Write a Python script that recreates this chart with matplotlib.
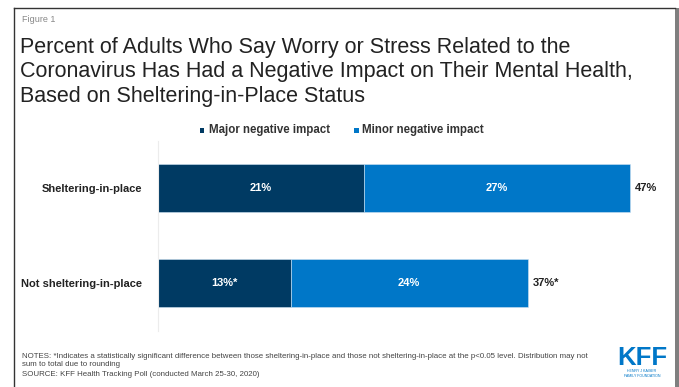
import matplotlib
matplotlib.use("Agg")
import matplotlib.pyplot as plt
from matplotlib.patches import Rectangle
from matplotlib.lines import Line2D

plt.rcParams['font.family'] = ['Liberation Sans', 'DejaVu Sans']

categories = ["Sheltering-in-place", "Not sheltering-in-place"]
major = [20.6, 13.3]
minor = [26.6, 23.7]
major_labels = ["21%", "13%*"]
minor_labels = ["27%", "24%"]
total_labels = ["47%", "37%*"]
series_names = ["Major negative impact", "Minor negative impact"]

DARK = "#003a63"
LIGHT = "#0077c8"

W, H = 679, 387
fig = plt.figure(figsize=(W / 100, H / 100), dpi=100)

def fx(px):
    return px / W

def fy(py):
    return 1 - py / H

# frame
fig.add_artist(Line2D([fx(14), fx(14)], [fy(8), 0], color="#333333", lw=1.0))
fig.add_artist(Line2D([fx(14), fx(675)], [fy(8), fy(8)], color="#333333", lw=1.0))
fig.add_artist(Rectangle((fx(674.5), 0), fx(4.5), fy(8), color="#7f7f7f", lw=0))

# axes
ax_left, ax_w = 157.7, 500.0
ax_top, ax_h = 140.5, 190.0
ax = fig.add_axes([fx(ax_left), fy(ax_top + ax_h), ax_w / W, ax_h / H])
y = list(range(len(categories)))
ax.barh(y, major, height=0.5, color=DARK, edgecolor="#cfe3f3", linewidth=0.4)
ax.barh(y, minor, left=major, height=0.5, color=LIGHT, edgecolor="#cfe3f3", linewidth=0.4)
ax.set_xlim(0, 50)
ax.set_ylim(1.5, -0.5)
for s in ["top", "right", "bottom"]:
    ax.spines[s].set_visible(False)
ax.spines["left"].set_color("#ececec")
ax.spines["left"].set_linewidth(0.8)
ax.set_xticks([])
ax.set_yticks(y)
ax.set_yticklabels(categories, fontsize=8, fontweight="bold", color="#222222")
ax.tick_params(axis="y", length=0, pad=11)

for i in y:
    ax.text(major[i] / 2, i, major_labels[i], ha="center", va="center",
            color="white", fontsize=8, fontweight="bold")
    ax.text(major[i] + minor[i] / 2, i, minor_labels[i], ha="center", va="center",
            color="white", fontsize=8, fontweight="bold")
    ax.text(major[i] + minor[i] + 0.5, i, total_labels[i], ha="left", va="center",
            color="#222222", fontsize=8, fontweight="bold")

# legend
for x0, tx, name, col in [(202, 209, series_names[0], DARK), (356, 362, series_names[1], LIGHT)]:
    fig.add_artist(Rectangle((fx(x0 - 2.5), fy(132.5)), fx(5), 5 / H, color=col, lw=0))
    fig.text(fx(tx), fy(130), name, fontsize=8.3, fontweight="bold",
             color="#333333", va="center", ha="left")

# titles
fig.text(fx(22), fy(19), "Figure 1", fontsize=6.5, color="#888888", va="center", ha="left")
title_lines = [
    "Percent of Adults Who Say Worry or Stress Related to the",
    "Coronavirus Has Had a Negative Impact on Their Mental Health,",
    "Based on Sheltering-in-Place Status",
]
for k, line in enumerate(title_lines):
    fig.text(fx(20), fy(53 + 24.5 * k), line, fontsize=15.5, color="#222222",
             va="baseline", ha="left")

# notes
notes = [
    "NOTES: *Indicates a statistically significant difference between those sheltering-in-place and those not sheltering-in-place at the p<0.05 level. Distribution may not",
    "sum to total due to rounding",
    "SOURCE: KFF Health Tracking Poll (conducted March 25-30, 2020)",
]
for k, ypx in enumerate([356, 364.5, 374]):
    fig.text(fx(22), fy(ypx), notes[k], fontsize=5.7, color="#444444",
             va="center", ha="left")

# logo
fig.text(fx(642), fy(358), "KFF", fontsize=18.5, fontweight="bold", color=LIGHT,
         va="center", ha="center")
fig.text(fx(642), fy(371), "HENRY J KAISER", fontsize=2.6, color=LIGHT,
         va="center", ha="center")
fig.text(fx(642), fy(376), "FAMILY FOUNDATION", fontsize=2.6, color=LIGHT,
         va="center", ha="center")

fig.savefig("out.png", dpi=100, facecolor="white")
